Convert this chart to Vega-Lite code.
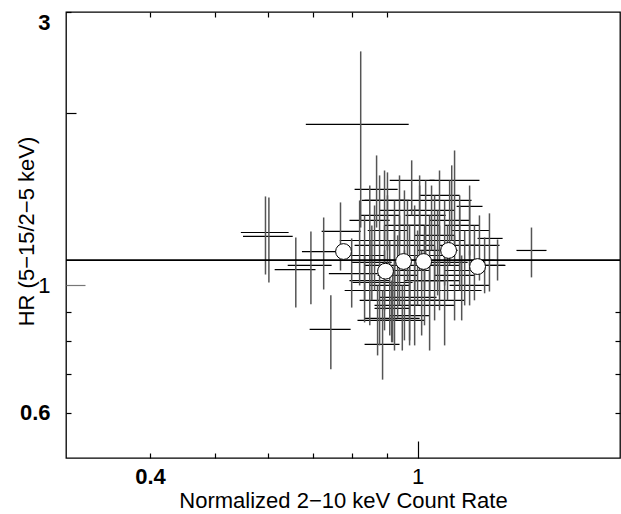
{
  "$schema": "https://vega.github.io/schema/vega-lite/v6.json",
  "autosize": "none",
  "width": 554,
  "height": 446,
  "padding": {"left": 66, "top": 12, "right": 1, "bottom": 56},
  "background": "white",
  "config": {
    "view": {"stroke": "black", "strokeWidth": 1.3},
    "font": "Liberation Sans",
    "axis": {"domain": false, "grid": false, "labelFont": "Liberation Sans", "titleFont": "Liberation Sans", "labelColor": "black", "titleColor": "black", "tickColor": "black", "tickWidth": 1.2, "titleFontWeight": "normal"}
  },
  "datasets": {
    "crosses": [
      {"x":0.823,"xlo":0.682,"xhi":0.970,"y":1.910,"ylo":1.262,"yhi":2.561},
      {"x":1.477,"xlo":1.403,"xhi":1.555,"y":1.151,"ylo":1.033,"yhi":1.262},
      {"x":0.743,"xlo":0.691,"xhi":0.795,"y":0.838,"ylo":0.714,"yhi":0.961},
      {"x":0.887,"xlo":0.834,"xhi":0.940,"y":0.789,"ylo":0.685,"yhi":0.980},
      {"x":0.594,"xlo":0.546,"xhi":0.643,"y":1.237,"ylo":1.045,"yhi":1.430},
      {"x":0.601,"xlo":0.550,"xhi":0.652,"y":1.218,"ylo":1.012,"yhi":1.424},
      {"x":0.659,"xlo":0.613,"xhi":0.705,"y":1.066,"ylo":0.915,"yhi":1.213},
      {"x":0.694,"xlo":0.641,"xhi":0.745,"y":1.084,"ylo":0.927,"yhi":1.242},
      {"x":0.725,"xlo":0.673,"xhi":0.766,"y":1.146,"ylo":0.984,"yhi":1.314},
      {"x":0.768,"xlo":0.720,"xhi":0.823,"y":1.243,"ylo":1.062,"yhi":1.396},
      {"x":0.798,"xlo":0.738,"xhi":0.872,"y":1.049,"ylo":0.915,"yhi":1.208},
      {"x":1.279,"xlo":1.228,"xhi":1.338,"y":1.208,"ylo":0.976,"yhi":1.336},
      {"x":1.315,"xlo":1.236,"xhi":1.351,"y":1.084,"ylo":1.020,"yhi":1.203},
      {"x":1.195,"xlo":1.143,"xhi":1.249,"y":1.374,"ylo":1.128,"yhi":1.494},
      {"x":0.869,"xlo":0.806,"xhi":0.934,"y":1.471,"ylo":1.262,"yhi":1.686},
      {"x":0.902,"xlo":0.826,"xhi":0.973,"y":1.407,"ylo":1.151,"yhi":1.575},
      {"x":0.834,"xlo":0.779,"xhi":0.893,"y":1.128,"ylo":0.942,"yhi":1.325},
      {"x":0.849,"xlo":0.792,"xhi":0.909,"y":1.020,"ylo":0.852,"yhi":1.198},
      {"x":0.863,"xlo":0.806,"xhi":0.924,"y":1.175,"ylo":0.980,"yhi":1.379},
      {"x":0.878,"xlo":0.820,"xhi":0.940,"y":0.942,"ylo":0.786,"yhi":1.128},
      {"x":0.893,"xlo":0.834,"xhi":0.956,"y":1.084,"ylo":0.905,"yhi":1.273},
      {"x":0.909,"xlo":0.849,"xhi":0.973,"y":1.000,"ylo":0.818,"yhi":1.198},
      {"x":0.924,"xlo":0.863,"xhi":0.990,"y":1.198,"ylo":1.000,"yhi":1.407},
      {"x":0.924,"xlo":0.863,"xhi":1.007,"y":0.923,"ylo":0.770,"yhi":1.084},
      {"x":0.940,"xlo":0.878,"xhi":1.007,"y":1.106,"ylo":0.923,"yhi":1.325},
      {"x":0.956,"xlo":0.893,"xhi":1.024,"y":1.273,"ylo":1.084,"yhi":1.465},
      {"x":0.956,"xlo":0.893,"xhi":1.042,"y":0.980,"ylo":0.802,"yhi":1.151},
      {"x":0.973,"xlo":0.909,"xhi":1.042,"y":1.062,"ylo":0.886,"yhi":1.273},
      {"x":0.990,"xlo":0.924,"xhi":1.060,"y":1.175,"ylo":0.980,"yhi":1.379},
      {"x":0.990,"xlo":0.924,"xhi":1.078,"y":0.942,"ylo":0.786,"yhi":1.128},
      {"x":1.007,"xlo":0.940,"xhi":1.078,"y":1.273,"ylo":1.062,"yhi":1.494},
      {"x":1.024,"xlo":0.956,"xhi":1.097,"y":1.020,"ylo":0.852,"yhi":1.223},
      {"x":1.042,"xlo":0.973,"xhi":1.116,"y":1.128,"ylo":0.942,"yhi":1.325},
      {"x":1.042,"xlo":0.973,"xhi":1.135,"y":0.923,"ylo":0.770,"yhi":1.084},
      {"x":1.060,"xlo":0.990,"xhi":1.135,"y":1.223,"ylo":1.020,"yhi":1.436},
      {"x":1.078,"xlo":1.007,"xhi":1.155,"y":1.084,"ylo":0.905,"yhi":1.273},
      {"x":1.097,"xlo":1.024,"xhi":1.175,"y":0.942,"ylo":0.786,"yhi":1.128},
      {"x":1.116,"xlo":1.042,"xhi":1.195,"y":1.299,"ylo":1.084,"yhi":1.525},
      {"x":1.135,"xlo":1.042,"xhi":1.236,"y":1.525,"ylo":1.175,"yhi":1.720},
      {"x":1.135,"xlo":1.060,"xhi":1.215,"y":1.041,"ylo":0.869,"yhi":1.223},
      {"x":1.155,"xlo":1.078,"xhi":1.236,"y":1.175,"ylo":0.980,"yhi":1.379},
      {"x":1.175,"xlo":1.097,"xhi":1.258,"y":1.062,"ylo":0.923,"yhi":1.247},
      {"x":1.195,"xlo":1.116,"xhi":1.279,"y":1.000,"ylo":0.923,"yhi":1.151},
      {"x":1.215,"xlo":1.135,"xhi":1.301,"y":1.106,"ylo":0.942,"yhi":1.273},
      {"x":1.236,"xlo":1.175,"xhi":1.324,"y":1.175,"ylo":1.020,"yhi":1.325},
      {"x":1.258,"xlo":1.195,"xhi":1.347,"y":1.084,"ylo":0.969,"yhi":1.213},
      {"x":0.820,"xlo":0.766,"xhi":0.878,"y":1.198,"ylo":1.000,"yhi":1.407},
      {"x":0.849,"xlo":0.792,"xhi":0.909,"y":1.299,"ylo":1.106,"yhi":1.494},
      {"x":0.878,"xlo":0.820,"xhi":0.940,"y":1.325,"ylo":1.128,"yhi":1.556},
      {"x":0.940,"xlo":0.878,"xhi":1.007,"y":1.352,"ylo":1.175,"yhi":1.556},
      {"x":1.007,"xlo":0.940,"xhi":1.078,"y":1.407,"ylo":1.223,"yhi":1.556},
      {"x":1.049,"xlo":0.973,"xhi":1.135,"y":1.352,"ylo":1.151,"yhi":1.494},
      {"x":1.097,"xlo":1.024,"xhi":1.175,"y":1.198,"ylo":1.000,"yhi":1.407},
      {"x":0.915,"xlo":0.834,"xhi":1.007,"y":0.876,"ylo":0.796,"yhi":1.020},
      {"x":0.918,"xlo":0.863,"xhi":0.973,"y":0.912,"ylo":0.796,"yhi":1.062},
      {"x":0.973,"xlo":0.878,"xhi":1.067,"y":0.953,"ylo":0.802,"yhi":1.106},
      {"x":0.893,"xlo":0.800,"xhi":0.983,"y":1.012,"ylo":0.835,"yhi":1.151},
      {"x":0.834,"xlo":0.779,"xhi":0.893,"y":0.980,"ylo":0.862,"yhi":1.128},
      {"x":1.024,"xlo":0.956,"xhi":1.116,"y":1.128,"ylo":0.980,"yhi":1.273},
      {"x":1.078,"xlo":1.007,"xhi":1.155,"y":1.436,"ylo":1.223,"yhi":1.587},
      {"x":1.155,"xlo":1.097,"xhi":1.236,"y":1.273,"ylo":1.062,"yhi":1.436},
      {"x":0.980,"xlo":0.909,"xhi":1.060,"y":1.525,"ylo":1.325,"yhi":1.653},
      {"x":1.060,"xlo":0.990,"xhi":1.155,"y":1.020,"ylo":0.869,"yhi":1.175},
      {"x":0.949,"xlo":0.878,"xhi":1.024,"y":0.869,"ylo":0.770,"yhi":1.000},
      {"x":1.000,"xlo":0.934,"xhi":1.078,"y":1.084,"ylo":0.923,"yhi":1.247},
      {"x":0.855,"xlo":0.798,"xhi":0.915,"y":1.097,"ylo":0.942,"yhi":1.273},
      {"x":0.902,"xlo":0.843,"xhi":0.966,"y":1.247,"ylo":1.062,"yhi":1.436},
      {"x":0.934,"xlo":0.872,"xhi":1.000,"y":1.041,"ylo":0.876,"yhi":1.223},
      {"x":0.966,"xlo":0.902,"xhi":1.035,"y":1.198,"ylo":1.020,"yhi":1.407},
      {"x":1.014,"xlo":0.947,"xhi":1.085,"y":0.980,"ylo":0.818,"yhi":1.151},
      {"x":1.071,"xlo":1.000,"xhi":1.147,"y":1.151,"ylo":0.961,"yhi":1.352},
      {"x":1.108,"xlo":1.035,"xhi":1.187,"y":1.097,"ylo":0.942,"yhi":1.273},
      {"x":1.163,"xlo":1.085,"xhi":1.245,"y":0.980,"ylo":0.869,"yhi":1.128},
      {"x":0.872,"xlo":0.814,"xhi":0.934,"y":0.869,"ylo":0.755,"yhi":1.000},
      {"x":0.924,"xlo":0.863,"xhi":0.990,"y":1.106,"ylo":0.942,"yhi":1.325},
      {"x":1.028,"xlo":0.959,"xhi":1.101,"y":1.325,"ylo":1.128,"yhi":1.525},
      {"x":1.195,"xlo":1.124,"xhi":1.279,"y":1.247,"ylo":1.084,"yhi":1.407},
      {"x":0.973,"xlo":0.909,"xhi":1.042,"y":0.886,"ylo":0.786,"yhi":1.020},
      {"x":0.893,"xlo":0.834,"xhi":0.956,"y":1.407,"ylo":1.198,"yhi":1.587},
      {"x":1.124,"xlo":1.049,"xhi":1.203,"y":1.407,"ylo":1.198,"yhi":1.620}
    ],
    "bins": [
      {"x":0.776,"y":1.146},
      {"x":0.896,"y":1.059},
      {"x":0.953,"y":1.101},
      {"x":1.021,"y":1.101},
      {"x":1.112,"y":1.151},
      {"x":1.228,"y":1.079}
    ],
    "fit": [{"hr": 1.107}]
  },
  "layer": [
    {
      "data": {"name": "crosses"},
      "mark": {"type": "rule", "color": "black", "strokeWidth": 1.2, "clip": true},
      "encoding": {
        "x": {
          "field": "xlo", "type": "quantitative",
          "scale": {"type": "log", "domain": [0.3, 2], "nice": false, "zero": false},
          "axis": {
            "orient": "bottom",
            "title": "Normalized 2−10 keV Count Rate",
            "titleFontSize": 22,
            "titleBaseline": "alphabetic",
            "titleY": 49,
            "values": [0.4, 0.5, 0.6, 0.7, 0.8, 0.9, 1],
            "labelExpr": "datum.value == 0.4 ? '0.4' : (datum.value == 1 ? '1' : '')",
            "labelFontSize": 22,
            "labelFontWeight": {"condition": {"test": "datum.value == 1", "value": "normal"}, "value": "bold"},
            "tickSize": {"condition": {"test": "datum.value == 1", "value": -17}, "value": -5},
            "labelPadding": {"condition": {"test": "datum.value == 1", "value": 25}, "value": 13}
          }
        },
        "x2": {"field": "xhi"},
        "y": {
          "field": "y", "type": "quantitative",
          "scale": {"type": "log", "domain": [0.5, 3], "nice": false, "zero": false},
          "axis": {
            "orient": "left",
            "title": "HR (5−15/2−5 keV)",
            "titleFontSize": 22,
            "titleBaseline": "alphabetic",
            "titleX": -33,
            "titleY": 219,
            "values": [0.6, 0.7, 0.8, 0.9, 1, 2, 3],
            "labelExpr": "datum.value == 3 ? '3' : (datum.value == 1 ? '1' : (datum.value == 0.6 ? '0.6' : ''))",
            "labelFontSize": 22,
            "labelFlush": true,
            "labelFontWeight": {"condition": {"test": "datum.value == 1", "value": "normal"}, "value": "bold"},
            "tickSize": {"condition": [{"test": "datum.value == 1", "value": -19}, {"test": "datum.value == 2", "value": -10}], "value": -5},
            "tickColor": {"condition": {"test": "datum.value == 1", "value": "#777777"}, "value": "black"},
            "labelPadding": {"condition": {"test": "datum.value == 1", "value": 35}, "value": 21}
          }
        }
      }
    },
    {
      "data": {"name": "crosses"},
      "mark": {"type": "rule", "color": "#555555", "strokeWidth": 1.5, "clip": true},
      "encoding": {
        "x": {
          "field": "x", "type": "quantitative",
          "scale": {"type": "log", "domain": [0.3, 2], "nice": false, "zero": false},
          "axis": {"orient": "top", "values": [0.4, 0.5, 0.6, 0.7, 0.8, 0.9], "labels": false, "title": null, "tickSize": -5}
        },
        "y": {
          "field": "ylo", "type": "quantitative",
          "scale": {"type": "log", "domain": [0.5, 3], "nice": false, "zero": false},
          "axis": {"orient": "right", "values": [0.6, 0.7, 0.8, 0.9], "labels": false, "title": null, "tickSize": -5}
        },
        "y2": {"field": "yhi"}
      }
    },
    {
      "data": {"name": "fit"},
      "mark": {"type": "rule", "color": "black", "strokeWidth": 1.6},
      "encoding": {
        "y": {"field": "hr", "type": "quantitative", "axis": null}
      }
    },
    {
      "data": {"name": "bins"},
      "mark": {"type": "point", "shape": "circle", "filled": true, "fill": "white", "stroke": "black", "strokeWidth": 1, "size": 250, "opacity": 1},
      "encoding": {
        "x": {"field": "x", "type": "quantitative", "axis": null},
        "y": {"field": "y", "type": "quantitative", "axis": null}
      }
    }
  ],
  "resolve": {"axis": {"x": "independent", "y": "independent"}}
}
